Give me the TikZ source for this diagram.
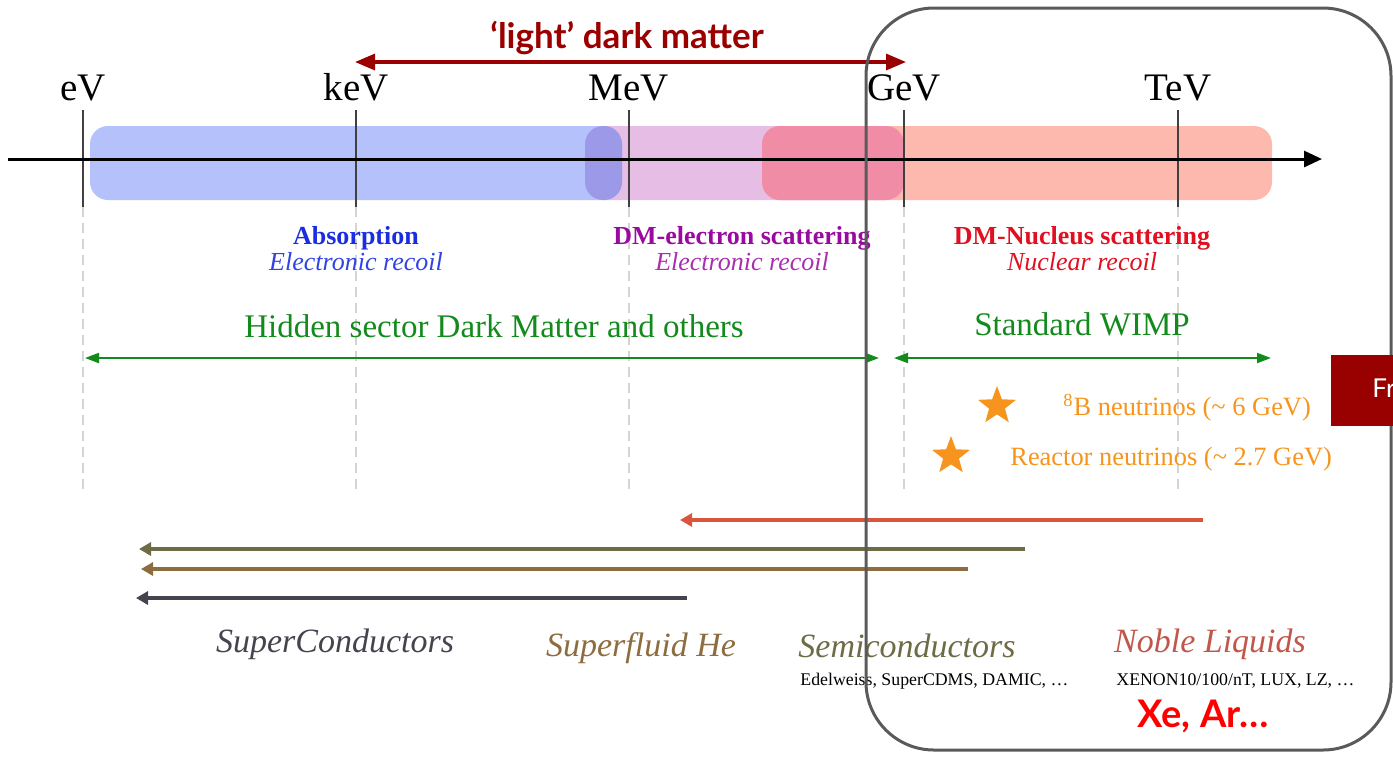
\documentclass[tikz,border=0pt]{standalone}
\usepackage{fontspec}
\setmainfont{Liberation Serif}
\newfontfamily\lato{Lato}
\usetikzlibrary{arrows.meta,shapes.geometric}
\definecolor{bluebar}{HTML}{B4C1FB}
\definecolor{pinkbar}{HTML}{E6BDE4}
\definecolor{salmonbar}{HTML}{FDB9AE}
\definecolor{bpover}{HTML}{9C9AE8}
\definecolor{psover}{HTML}{F08CA6}
\definecolor{absblue}{HTML}{1A2EE0}
\definecolor{dmpurple}{HTML}{9A0AA0}
\definecolor{dmred}{HTML}{E01020}
\definecolor{dmgreen}{HTML}{138A1C}
\definecolor{nuorange}{HTML}{F7941D}
\definecolor{darkred}{HTML}{9A0000}
\definecolor{arrred}{HTML}{D9553B}
\definecolor{arrolive}{HTML}{6E6C45}
\definecolor{arrbrown}{HTML}{8D6C3F}
\definecolor{arrgray}{HTML}{44444E}
\definecolor{noblered}{HTML}{C0574A}
\definecolor{boxgray}{HTML}{5A5A5A}
\definecolor{frred}{HTML}{990000}
\tikzset{
  ticklabel/.style={font=\fontsize{19.5}{22}\selectfont, anchor=base, inner sep=0pt},
  tickline/.style={draw=black!75, line width=0.75pt},
  dashline/.style={draw=black!17, line width=0.6pt, dash pattern=on 5pt off 3pt},
  bar/.style={rounded corners=9pt},
  head/.style={font=\bfseries\fontsize{13}{15}\selectfont, anchor=base, inner sep=0pt},
  sub/.style={font=\itshape\fontsize{13}{15}\selectfont, anchor=base, inner sep=0pt},
  grtext/.style={font=\fontsize{16.5}{19}\selectfont, text=dmgreen, anchor=base, inner sep=0pt},
  grarrow/.style={draw=dmgreen, line width=1pt, {Triangle[length=7pt,width=5pt]}-{Triangle[length=7pt,width=5pt]}},
  nutext/.style={font=\fontsize{13.2}{15}\selectfont, text=nuorange, anchor=base west, inner sep=0pt},
  staricon/.style={star, star points=5, star point ratio=2.4, fill=nuorange, inner sep=0pt, minimum size=20pt},
  detarrow/.style={line width=1.8pt, -{Triangle[length=6pt,width=6.5pt]}},
  dettext/.style={font=\itshape\fontsize{17}{20}\selectfont, anchor=base, inner sep=0pt},
  exptext/.style={font=\fontsize{8.9}{10}\selectfont, anchor=base west, inner sep=0pt},
}
\begin{document}
\begin{tikzpicture}[x=0.5pt,y=-0.5pt]
\useasboundingbox (0,0) rectangle (1393,757);
% bars
\fill[pinkbar, bar] (585,126) rectangle (904,200);
\fill[bluebar, bar] (90,126) rectangle (622,200);
\fill[salmonbar, bar] (762,126) rectangle (1272,200);
\begin{scope}
  \clip[bar] (585,126) rectangle (904,200);
  \fill[bpover, bar] (90,126) rectangle (622,200);
  \fill[psover, bar] (762,126) rectangle (1272,200);
\end{scope}
% ticks
\foreach \x/\n/\l in {83/ev/eV, 356/kev/keV, 629/mev/MeV, 904/gev/GeV, 1178/tev/TeV}{
  \node[ticklabel] (lab\n) at (\x,100) {\l};
  \coordinate (t\n) at (\x,110);
  \coordinate (m\n) at (\x,207);
  \coordinate (b\n) at (\x,490);
  \draw[tickline] (t\n) -- (m\n);
  \draw[dashline] (m\n) -- (b\n);
}
% axis
\coordinate (axL) at (8,159);
\coordinate (axR) at (1322,159);
\draw[line width=1.5pt, -{Triangle[length=9pt,width=8pt]}] (axL) -- (axR);
% light dark matter
\node[font=\lato\bfseries\fontsize{17.5}{20}\selectfont, text=darkred, anchor=base, inner sep=0pt] (ldm) at (627,48) {‘light’ dark matter};
\coordinate (ldL) at (355,62);
\coordinate (ldR) at (906,62);
\draw[darkred, line width=1.6pt, {Triangle[length=10pt,width=8pt]}-{Triangle[length=10pt,width=8pt]}] (ldL) -- (ldR);
% process labels
\node[head, text=absblue] (abs) at (356,244) {Absorption};
\node[sub, text=absblue!90!white] (absr) at (356,270) {Electronic recoil};
\node[head, text=dmpurple] (dme) at (742,244) {DM-electron scattering};
\node[sub, text=dmpurple!85!white] (dmer) at (742,270) {Electronic recoil};
\node[head, text=dmred] (dmn) at (1082,244) {DM-Nucleus scattering};
\node[sub, text=dmred] (dmnr) at (1082,270) {Nuclear recoil};
% green
\node[grtext] (hid) at (494,337) {Hidden sector Dark Matter and others};
\coordinate (hidL) at (85,358);
\coordinate (hidR) at (879,358);
\draw[grarrow] (hidL) -- (hidR);
\node[grtext] (wimp) at (1082,335) {Standard WIMP};
\coordinate (wimpL) at (894,358);
\coordinate (wimpR) at (1271,358);
\draw[grarrow] (wimpL) -- (wimpR);
% neutrinos
\node[staricon] (star1) at (997,406) {};
\node[nutext] (b8) at (1063,415) {\textsuperscript{8}B neutrinos (\textasciitilde{} 6 GeV)};
\node[staricon] (star2) at (951,456) {};
\node[nutext] (react) at (1010,465) {Reactor neutrinos (\textasciitilde{} 2.7 GeV)};
% detector arrows
\coordinate (a1s) at (1203,520); \coordinate (a1e) at (680,520);
\coordinate (a2s) at (1025,549); \coordinate (a2e) at (139,549);
\coordinate (a3s) at (968,569);  \coordinate (a3e) at (141,569);
\coordinate (a4s) at (687,598);  \coordinate (a4e) at (136,598);
\draw[detarrow, arrred] (a1s) -- (a1e);
\draw[detarrow, arrolive] (a2s) -- (a2e);
\draw[detarrow, arrbrown] (a3s) -- (a3e);
\draw[detarrow, arrgray] (a4s) -- (a4e);
% detector labels
\node[dettext, text=arrgray] (sc) at (335,652) {SuperConductors};
\node[dettext, text=arrbrown] (sfhe) at (641,656) {Superfluid He};
\node[dettext, text=arrolive] (semi) at (907,657) {Semiconductors};
\node[exptext] (semiexp) at (800,685) {Edelweiss, SuperCDMS, DAMIC, …};
\node[dettext, text=noblered] (noble) at (1210,652) {Noble Liquids};
\node[exptext] (nobleexp) at (1116,685) {XENON10/100/nT, LUX, LZ, …};
\node[font=\lato\bfseries\fontsize{19}{22}\selectfont, text=red, anchor=base, inner sep=0pt] (xear) at (1203,727) {Xe, Ar…};
% rounded box
\draw[boxgray, line width=1.5pt, rounded corners=34pt] (866,8) rectangle (1391,750);
% Fr box
\fill[frred] (1331,355) rectangle (1393,426);
\node[font=\lato\fontsize{13}{15}\selectfont, text=white, anchor=base west, inner sep=0pt] (fr) at (1372,397) {Fr};
\end{tikzpicture}
\end{document}
